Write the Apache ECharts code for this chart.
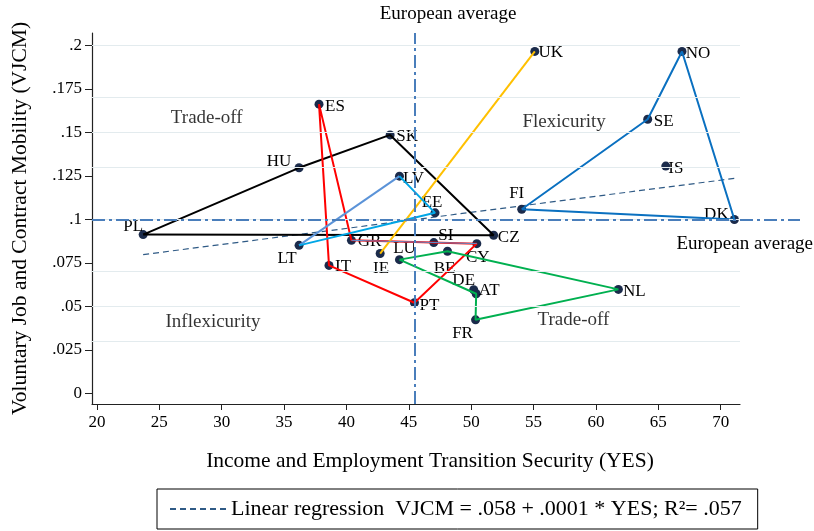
<!DOCTYPE html>
<html>
<head>
<meta charset="utf-8">
<script src="https://cdn.jsdelivr.net/npm/echarts@6/dist/echarts.min.js"></script>
<style>
  html, body { margin: 0; background: #fff; }
  #chart { width: 814px; height: 531px; }
</style>
</head>
<body>
<div id="chart"></div>
<script>
// country data: YES (x) and VJCM (y)
const countries = ['PL', 'LT', 'HU', 'ES', 'SK', 'LV', 'EE', 'GR', 'IE', 'IT', 'LU', 'SI', 'CY',
  'CZ', 'BE', 'DE', 'AT', 'FR', 'PT', 'NL', 'UK', 'NO', 'SE', 'IS', 'FI', 'DK'];
const yesValues = [23.7, 36.2, 36.2, 37.8, 43.5, 44.25, 47.1, 40.4, 42.7, 38.6, 44.25, 47.0, 50.45,
  51.8, 48.1, 50.2, 50.4, 50.35, 45.45, 61.8, 55.1, 66.9, 64.15, 65.6, 54.05, 71.1];
const vjcmValues = [0.0913, 0.0851, 0.1297, 0.1663, 0.1486, 0.1249, 0.1038, 0.0880, 0.0804, 0.0736, 0.0769, 0.0867, 0.0861,
  0.0909, 0.0817, 0.0596, 0.0573, 0.0423, 0.0521, 0.0598, 0.1966, 0.1966, 0.1576, 0.1307, 0.1059, 0.1000];

const xTicks = [20, 25, 30, 35, 40, 45, 50, 55, 60, 65, 70];
const yTicks = [0, 0.025, 0.05, 0.075, 0.1, 0.125, 0.15, 0.175, 0.2];

const avgYes = 45.5;
const avgVjcm = 0.0957;

// fitted line end points
const regressionYes = [23.7, 71.1];
const regressionVjcm = [0.0798, 0.1236];

// quadrant names
const regionNames = ['Trade-off', 'Flexicurity', 'Inflexicurity', 'Trade-off'];
const regionYes = [28.8, 57.45, 29.3, 58.2];
const regionVjcm = [0.1584, 0.1562, 0.0408, 0.0419];

// country groups joined by lines
const clusterPaths = [
  ['PL', 'HU', 'SK', 'CZ', 'PL'],
  ['ES', 'IT', 'PT', 'CY', 'GR', 'ES'],
  ['IE', 'UK'],
  ['LT', 'LV'],
  ['LV', 'EE', 'LT'],
  ['GR', 'CY'],
  ['FI', 'SE', 'NO', 'DK', 'FI'],
  ['LU', 'BE', 'NL', 'FR', 'AT', 'LU']
];

const regLabel = 'Linear regression  VJCM = .058 + .0001 * YES; R\u00B2= .057';

// styling
const FONT = 'Liberation Serif';
const pathStyles = [
  { color: '#000000', width: 2 },
  { color: '#ff0000', width: 2 },
  { color: '#ffc000', width: 2 },
  { color: '#5b93d8', width: 2 },
  { color: '#00a6e6', width: 2 },
  { color: '#5b8fd0', width: 1 },
  { color: '#0a70c0', width: 2 },
  { color: '#00b050', width: 2 }
];
// label offset from dot centre
const labelOffsets = {
  PL: [-10, -8], LT: [-12, 13], HU: [-20, -6], ES: [16, 2], SK: [17, 2], LV: [14, 2],
  EE: [-3, -10], GR: [18, 1], IE: [1, 15], IT: [14, 1], LU: [5, -11], SI: [12, -7],
  CY: [1, 14], CZ: [15, 2], BE: [-3, 17], DE: [-10, -9], AT: [13, -3], FR: [-13, 14],
  PT: [15, 3], NL: [16, 2], UK: [16, 1], NO: [16, 2], SE: [16, 2], IS: [10, 2],
  FI: [-5, -16], DK: [-18, -5]
};

const point = code => {
  const i = countries.indexOf(code);
  return [yesValues[i], vjcmValues[i]];
};

const chart = echarts.init(document.getElementById('chart'));

const dashDot = [13, 4, 3, 4];
const gridBox = { left: 92, top: 33, bottom: 127, containLabel: false, outerBoundsMode: 'none' };
const hiddenAxis = {
  show: false, axisLine: { show: false }, axisTick: { show: false },
  axisLabel: { show: false }, splitLine: { show: false }
};

const lineSeries = clusterPaths.map((path, k) => ({
  type: 'line',
  xAxisIndex: 0,
  yAxisIndex: 0,
  data: path.map(point),
  symbol: 'none',
  silent: true,
  z: 4,
  lineStyle: { color: pathStyles[k].color, width: pathStyles[k].width }
}));

const option = {
  animation: false,
  textStyle: { fontFamily: FONT },
  grid: [
    Object.assign({ right: 74 }, gridBox),
    // wider grid, only for the horizontal average line
    Object.assign({ right: 14 }, gridBox)
  ],
  xAxis: [
    {
      type: 'value',
      min: 19.6,
      max: 71.55,
      name: 'Income and Employment Transition Security (YES)',
      nameLocation: 'middle',
      nameGap: 46,
      nameTextStyle: { fontFamily: FONT, fontSize: 21.5, color: '#000', padding: [0, 0, 0, 28] },
      axisLine: { onZero: false, lineStyle: { color: '#222', width: 1.2 } },
      axisTick: { customValues: xTicks, length: 6, lineStyle: { color: '#222' } },
      axisLabel: { customValues: xTicks, fontFamily: FONT, fontSize: 17, color: '#000', margin: 10 },
      splitLine: { show: false }
    },
    Object.assign({ type: 'value', gridIndex: 1, min: 19.6, max: 76.4 }, hiddenAxis)
  ],
  yAxis: [
    {
      type: 'value',
      min: -0.0061,
      max: 0.2072,
      name: 'Voluntary Job and Contract Mobility (VJCM)',
      nameLocation: 'middle',
      nameRotate: 90,
      nameGap: 61,
      nameTextStyle: { fontFamily: FONT, fontSize: 21.5, color: '#000' },
      axisLine: { onZero: false, lineStyle: { color: '#222', width: 1.2 } },
      axisTick: { customValues: yTicks, length: 7, lineStyle: { color: '#222' } },
      axisLabel: {
        customValues: yTicks,
        fontFamily: FONT, fontSize: 17, color: '#000', margin: 10,
        formatter: v => (v === 0 ? '0' : String(v).replace(/^0/, ''))
      },
      splitLine: { show: false }
    },
    Object.assign({ type: 'value', gridIndex: 1, min: -0.0061, max: 0.2072 }, hiddenAxis)
  ],
  legend: {
    data: [regLabel],
    left: 157,
    top: 489,
    orient: 'horizontal',
    padding: [9, 16, 9, 12],
    borderColor: '#000',
    borderWidth: 1,
    borderRadius: 0,
    itemWidth: 56,
    itemHeight: 10,
    itemGap: 10,
    itemStyle: { opacity: 0 },
    textStyle: { fontFamily: FONT, fontSize: 22, color: '#000' }
  },
  series: [
    // horizontal gridlines
    {
      type: 'line',
      xAxisIndex: 0,
      yAxisIndex: 0,
      data: [],
      silent: true,
      z: 1,
      markLine: {
        silent: true,
        symbol: 'none',
        label: { show: false },
        lineStyle: { color: '#e3ebee', width: 1, type: 'solid' },
        data: yTicks.filter(v => v > 0).map(v => ({ yAxis: v }))
      }
    },
    // vertical European average
    {
      type: 'line',
      xAxisIndex: 0,
      yAxisIndex: 0,
      data: [],
      silent: true,
      z: 3,
      markLine: {
        silent: true,
        symbol: 'none',
        lineStyle: { color: '#4a7ebb', width: 2, type: dashDot },
        label: {
          show: true,
          position: 'end',
          formatter: 'European average',
          fontFamily: FONT, fontSize: 19, color: '#000',
          offset: [33, -4]
        },
        data: [{ xAxis: avgYes }]
      }
    },
    // horizontal European average on the wider grid
    {
      type: 'line',
      xAxisIndex: 1,
      yAxisIndex: 1,
      data: [],
      silent: true,
      z: 3,
      markLine: {
        silent: true,
        symbol: 'none',
        lineStyle: { color: '#4a7ebb', width: 2, type: dashDot },
        label: {
          show: true,
          position: 'insideEndBottom',
          formatter: 'European average',
          fontFamily: FONT, fontSize: 19, color: '#000',
          offset: [18, 10]
        },
        data: [{ yAxis: avgVjcm }]
      }
    },
    // regression line
    {
      name: regLabel,
      type: 'line',
      xAxisIndex: 0,
      yAxisIndex: 0,
      data: regressionYes.map((x, i) => [x, regressionVjcm[i]]),
      symbol: 'none',
      silent: true,
      z: 3,
      lineStyle: { color: '#2f5a85', width: 1.2, type: [6, 4] },
      itemStyle: { color: '#2f5a85' }
    },
    ...lineSeries,
    // country dots
    {
      type: 'scatter',
      xAxisIndex: 0,
      yAxisIndex: 0,
      symbolSize: 9,
      z: 3,
      itemStyle: { color: '#1b2b4b', opacity: 1 },
      label: {
        show: true,
        position: 'inside',
        fontFamily: FONT,
        fontSize: 17,
        color: '#000'
      },
      data: countries.map((c, i) => ({
        value: [yesValues[i], vjcmValues[i]],
        name: c,
        label: { formatter: c, offset: labelOffsets[c] }
      }))
    },
    // quadrant names
    {
      type: 'scatter',
      xAxisIndex: 0,
      yAxisIndex: 0,
      symbolSize: 1,
      silent: true,
      itemStyle: { color: 'rgba(0,0,0,0)' },
      label: {
        show: true,
        position: 'inside',
        fontFamily: FONT,
        fontSize: 19,
        color: '#000',
        formatter: p => p.name
      },
      data: regionNames.map((n, i) => ({ name: n, value: [regionYes[i], regionVjcm[i]] }))
    }
  ]
};

chart.setOption(option);
</script>
</body>
</html>
